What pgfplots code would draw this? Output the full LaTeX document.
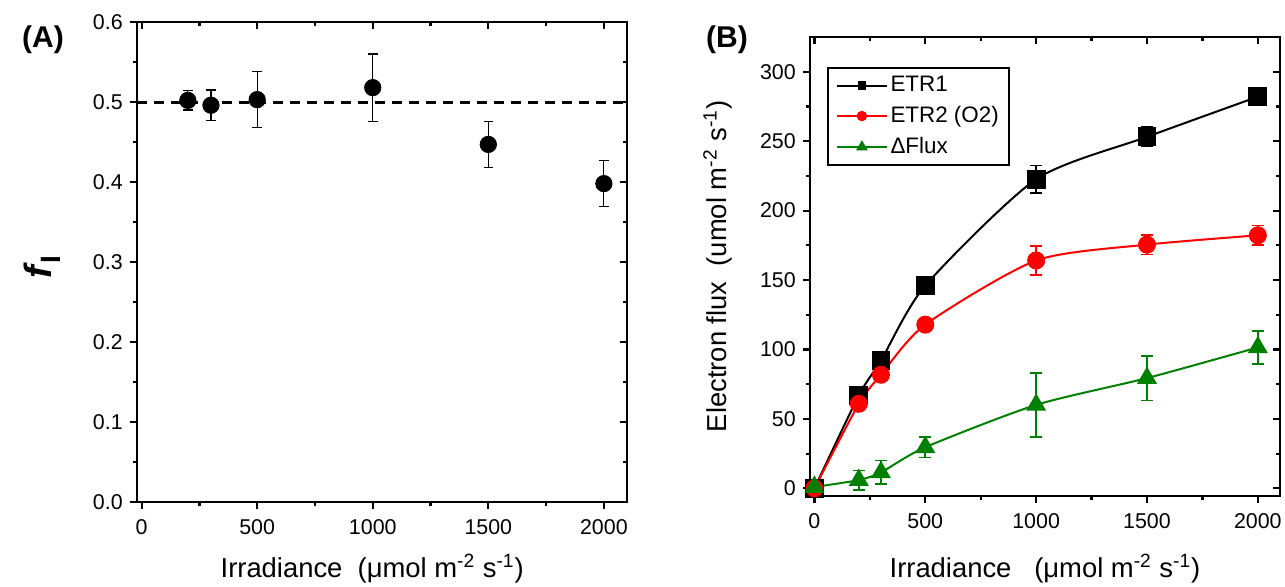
\documentclass[border=0pt]{standalone}
\usepackage{fontspec}
\setmainfont{Liberation Sans}
\usepackage{pgfplots}
\pgfplotsset{compat=1.18}
\usepackage{pgfplotstable}
\definecolor{ogreen}{RGB}{0,128,0}

\pgfplotstableread{
x y e
200 0.502 0.012
300 0.496 0.019
500 0.503 0.035
1000 0.518 0.042
1500 0.447 0.029
2000 0.398 0.029
}\fitable

\pgfplotstableread{
x y e
0 0 0
200 66.9 3
300 92 3
500 146 3
1000 222.6 10
1500 253.1 7
2000 282 3
}\etrone

\pgfplotstableread{
x y e
0 0 0
200 60.9 3
300 81.8 3
500 117.9 3
1000 164.1 10.5
1500 175.5 7
2000 182.2 7
}\etrtwo

\pgfplotstableread{
x y e
0 1 0
200 6 7
300 11.5 8.5
500 29.6 7.5
1000 60.1 23
1500 79.4 16
2000 101.5 12
}\dflux

\pgfplotsset{
  common/.style={
    scale only axis,
    axis line style={line width=1.2pt},
    xmin=-20, xmax=2100,
    xtick={0,500,...,2000}, minor x tick num=1,
    tick style={line width=1.1pt, black},
    major tick length=3.6pt, minor tick length=2.2pt,
    tick label style={font=\fontsize{10.7}{12}\selectfont},
    xticklabel style={yshift=-1.5pt},
    label style={font=\fontsize{13.7}{16}\selectfont},
    /pgf/number format/assume math mode=true,
    /pgf/number format/1000 sep={},
  },
  mainax/.style={common, tick align=outside, xtick pos=left, ytick pos=left},
  mirrorax/.style={common, tick align=inside, xtick pos=right, ytick pos=right,
    xticklabels={}, yticklabels={}, axis line style={draw=none}},
  panelA/.style={at={(68.5pt,42pt)}, anchor=south west, width=245pt, height=240pt,
    ymin=0, ymax=0.6, ytick={0,0.1,...,0.61}, minor y tick num=1},
  panelB/.style={at={(405pt,45pt)}, anchor=south west, width=235pt, height=229.5pt,
    ymin=-5.5, ymax=325, ytick={0,50,...,300}, minor y tick num=1},
  ebars/.style={error bars/.cd, y dir=both, y explicit,
    error bar style={line width=0.8pt, solid},
    error mark options={rotate=90, mark size=3pt, line width=0.8pt}},
}

\begin{document}
\begin{tikzpicture}
\path[use as bounding box] (0pt,0pt) rectangle (642.5pt,293pt);

% ---------------- Panel A ----------------
\begin{axis}[mainax, panelA,
  yticklabel style={/pgf/number format/fixed, /pgf/number format/fixed zerofill, /pgf/number format/precision=1},
  xlabel={Irradiance\ \ (μmol m\textsuperscript{-2} s\textsuperscript{-1})},
  xlabel style={at={(axis description cs:0.48,-0.158)}, anchor=base},
  ylabel={\fontsize{19}{21}\selectfont\bfseries\itshape f\kern1pt\raisebox{-0.45ex}{\upshape\fontsize{14}{16}\selectfont I}},
  ylabel style={at={(axis description cs:-0.194,0.49)}, anchor=center},
]
\addplot[black, line width=1.5pt, dash pattern=on 5pt off 3.5pt, forget plot] coordinates {(-20,0.5) (2100,0.5)};
\addplot[only marks, black, mark=*, mark size=4.1pt,
  error bars/.cd, y dir=both, y explicit,
  error bar style={line width=0.6pt},
  error mark options={rotate=90, mark size=2.4pt, line width=0.6pt}]
  table[x=x, y=y, y error=e] {\fitable};
\end{axis}
\begin{axis}[mirrorax, panelA]
\end{axis}

% ---------------- Panel B ----------------
\begin{axis}[mainax, panelB,
  xlabel={Irradiance\ \ \ (μmol m\textsuperscript{-2} s\textsuperscript{-1})},
  xlabel style={at={(axis description cs:0.5,-0.1786)}, anchor=base},
  ylabel={Electron flux\ \ (umol m\textsuperscript{-2} s\textsuperscript{-1})},
  ylabel style={at={(axis description cs:-0.196,0.5)}, anchor=center},
  legend cell align=left,
  legend style={at={(0.036,0.935)}, anchor=north west, draw=black, line width=1pt,
    font=\fontsize{11.2}{13}\selectfont, inner xsep=4pt, inner ysep=3pt, row sep=3.2pt,
    nodes={inner sep=1.3pt}},
  legend image code/.code={\draw[mark repeat=2, mark phase=2] plot coordinates {(0pt,0pt) (12.5pt,0pt) (25pt,0pt)};},
]
\addplot[black, line width=1pt, smooth, tension=0.42, mark=square*, mark size=4.2pt,
  legend image post style={mark size=1.7pt},
  ebars]
  table[x=x, y=y, y error=e] {\etrone};
\addlegendentry{ETR1}
\addplot[red, line width=1pt, smooth, tension=0.42, mark=*, mark size=4pt,
  legend image post style={mark size=2.1pt},
  ebars]
  table[x=x, y=y, y error=e] {\etrtwo};
\addlegendentry{ETR2 (O2)}
\addplot[ogreen, line width=1pt, smooth, tension=0.42, mark=triangle*, mark size=4.8pt,
  legend image post style={mark size=2.4pt},
  ebars]
  table[x=x, y=y, y error=e] {\dflux};
\addlegendentry{ΔFlux}
\end{axis}
\begin{axis}[mirrorax, panelB]
\end{axis}

\node[font=\fontsize{15}{17}\selectfont\bfseries] at (21.5pt,273pt) {(A)};
\node[font=\fontsize{15}{17}\selectfont\bfseries] at (363.5pt,273pt) {(B)};
\end{tikzpicture}
\end{document}
